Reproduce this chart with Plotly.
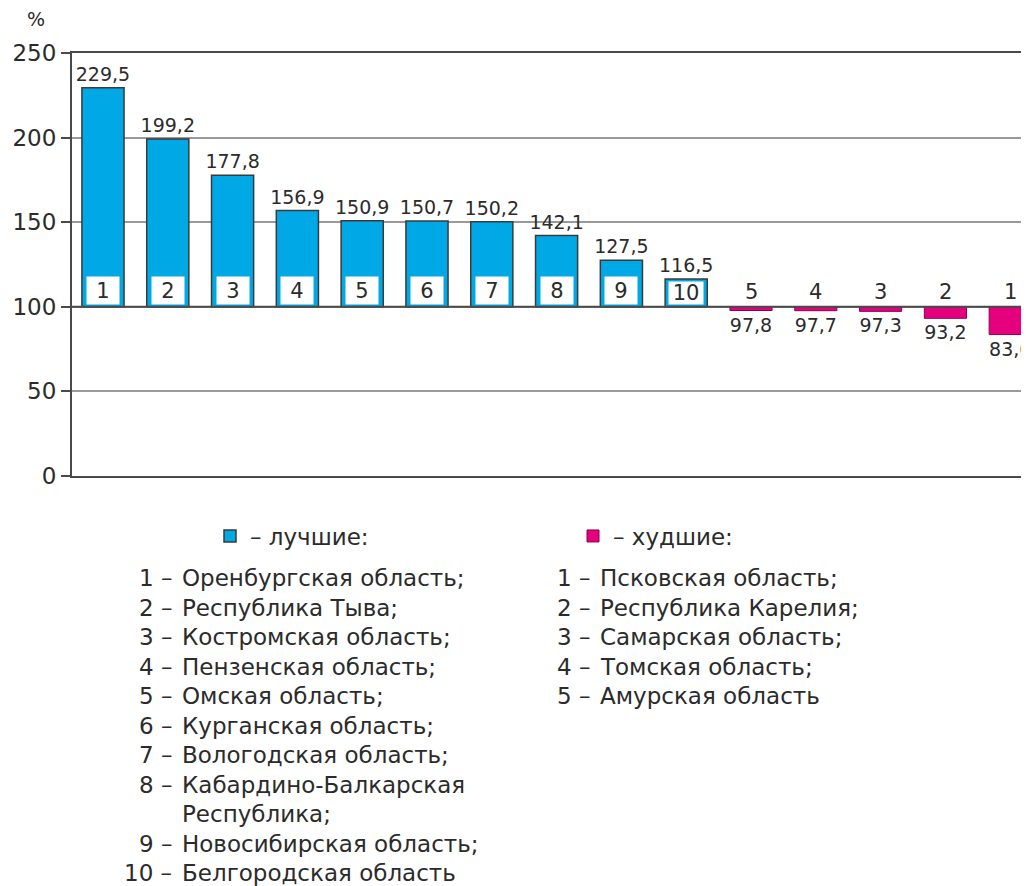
import plotly.graph_objects as go

# ---- data ----
best_ids = ["1", "2", "3", "4", "5", "6", "7", "8", "9", "10"]
best_values = [229.5, 199.2, 177.8, 156.9, 150.9, 150.7, 150.2, 142.1, 127.5, 116.5]
best_names = [
    "Оренбургская область;",
    "Республика Тыва;",
    "Костромская область;",
    "Пензенская область;",
    "Омская область;",
    "Курганская область;",
    "Вологодская область;",
    "Кабардино-Балкарская",
    "Республика;",
    "Новосибирская область;",
    "Белгородская область",
]
best_name_nums = ["1", "2", "3", "4", "5", "6", "7", "8", "", "9", "10"]

worst_ids = ["5", "4", "3", "2", "1"]
worst_values = [97.8, 97.7, 97.3, 93.2, 83.6]
worst_names = [
    "Псковская область;",
    "Республика Карелия;",
    "Самарская область;",
    "Томская область;",
    "Амурская область",
]
worst_name_nums = ["1", "2", "3", "4", "5"]

BASE = 100
y_ticks = [0, 50, 100, 150, 200, 250]

BLUE = "#00A8E6"
PINK = "#E5007E"
TXT = "#2b2b2b"
FONT = "DejaVu Sans"

best_cats = ["b" + i for i in best_ids]
worst_cats = ["w" + i for i in worst_ids]

def fmt(v):
    return f"{v:.1f}".replace(".", ",")

fig = go.Figure()
fig.add_trace(go.Bar(
    x=best_cats, y=[v - BASE for v in best_values], base=BASE,
    marker=dict(color=BLUE, line=dict(color="#3a3a3a", width=1.5)),
    width=0.65, name="– лучшие:",
    text=[fmt(v) for v in best_values], textposition="outside",
    constraintext="none",
    textfont=dict(size=19, color=TXT, family=FONT), cliponaxis=False,
))
fig.add_trace(go.Bar(
    x=worst_cats, y=[v - BASE for v in worst_values], base=BASE,
    marker=dict(color=PINK, line=dict(color="#8a0050", width=1)),
    width=0.65, name="– худшие:",
    text=[fmt(v) for v in worst_values], textposition="outside",
    constraintext="none",
    textfont=dict(size=19, color=TXT, family=FONT), cliponaxis=False,
))

# page body adds an 8px offset; figure sized to fill the remaining window
OFF = 8
W, H = 1029 - OFF, 886 - OFF
L, R, T = 72 - OFF, 0, 53 - OFF
B = H - (476 - OFF)
pw, ph = W - L - R, H - T - B

def px(xp):  # reference window pixel -> paper x
    return (xp - OFF - L) / pw

def py(yp):  # reference window pixel -> paper y
    return (H - B - (yp - OFF)) / ph

ann = []
# number boxes on best bars
for c, i in zip(best_cats, best_ids):
    ann.append(dict(x=c, y=BASE, xref="x", yref="y", text=i, showarrow=False,
                    yanchor="bottom", yshift=2, bgcolor="white",
                    width=30 if len(i) == 1 else 32, height=25 if len(i) == 1 else 20,
                    font=dict(size=21, color=TXT, family=FONT)))
for c, i in zip(worst_cats, worst_ids):
    ann.append(dict(x=c, y=BASE, xref="x", yref="y", text=i, showarrow=False,
                    yanchor="bottom", yshift=1,
                    font=dict(size=21, color=TXT, family=FONT)))
# percent sign
ann.append(dict(x=px(36), y=py(19), xref="paper", yref="paper", text="%",
                xanchor="center", yanchor="middle",
                showarrow=False, font=dict(size=19, color=TXT, family=FONT)))

# legend lists
LH = 29.5
LF = 23
for k, (n, name) in enumerate(zip(best_name_nums, best_names)):
    yy = py(578 + k * LH)
    if n:
        ann.append(dict(x=px(174), y=yy, xref="paper", yref="paper", text=f"{n} –",
                        xanchor="right", yanchor="middle", showarrow=False,
                        font=dict(size=LF, color=TXT, family=FONT)))
    ann.append(dict(x=px(180), y=yy, xref="paper", yref="paper", text=name,
                    xanchor="left", yanchor="middle", showarrow=False,
                    font=dict(size=LF, color=TXT, family=FONT)))
for k, (n, name) in enumerate(zip(worst_name_nums, worst_names)):
    yy = py(578 + k * LH)
    ann.append(dict(x=px(592), y=yy, xref="paper", yref="paper", text=f"{n} –",
                    xanchor="right", yanchor="middle", showarrow=False,
                    font=dict(size=LF, color=TXT, family=FONT)))
    ann.append(dict(x=px(598), y=yy, xref="paper", yref="paper", text=name,
                    xanchor="left", yanchor="middle", showarrow=False,
                    font=dict(size=LF, color=TXT, family=FONT)))

fig.update_layout(
    width=W, height=H,
    margin=dict(l=L, r=R, t=T, b=B, autoexpand=False),
    plot_bgcolor="white", paper_bgcolor="white",
    bargap=0.35,
    annotations=ann,
    showlegend=True,
    legend=dict(orientation="h", x=px(210), y=py(536), xanchor="left", yanchor="middle",
                entrywidth=318, entrywidthmode="pixels",
                font=dict(size=LF, color=TXT, family=FONT),
                bgcolor="rgba(0,0,0,0)"),
    shapes=[dict(type="line", xref="paper", yref="y", x0=0, x1=1, y0=BASE, y1=BASE,
                 line=dict(color="#4a4a4a", width=2), layer="above")],
)
fig.update_xaxes(
    categoryorder="array", categoryarray=best_cats + worst_cats,
    range=[-0.478, 14.29], showticklabels=False, ticks="",
    showgrid=False, showline=True, linecolor="#4a4a4a", linewidth=2, mirror=True,
    zeroline=False,
)
fig.update_yaxes(
    range=[0, 250], tickvals=y_ticks, ticktext=[str(t) for t in y_ticks],
    showgrid=True, gridcolor="#9a9a9a", gridwidth=1.5,
    showline=True, linecolor="#4a4a4a", linewidth=2,
    ticks="outside", ticklen=9, tickwidth=2, tickcolor="#4a4a4a",
    tickfont=dict(size=23, color=TXT, family=FONT), zeroline=False,
)

fig.write_html("out.html")
